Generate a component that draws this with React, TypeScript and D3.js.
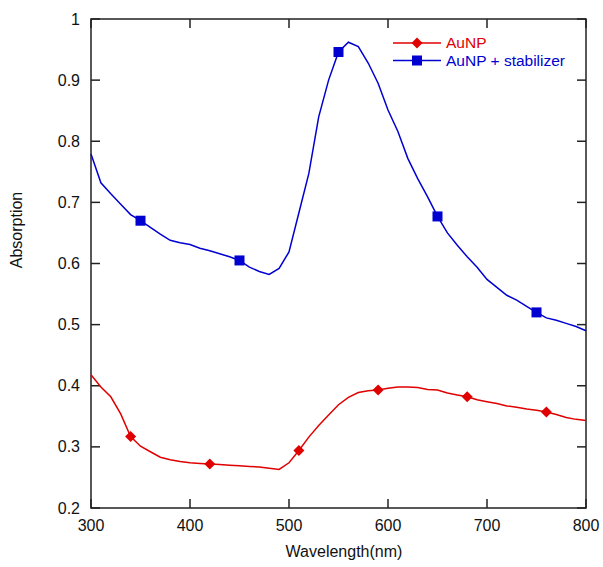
import React from "react";
import * as d3 from "d3";

const wavelengths = [300,310,320,330,340,350,360,370,380,390,400,410,420,430,440,450,460,470,480,490,500,510,520,530,540,550,560,570,580,590,600,610,620,630,640,650,660,670,680,690,700,710,720,730,740,750,760,770,780,790,800];
const auStab = [0.779,0.732,0.714,0.697,0.680,0.670,0.659,0.648,0.638,0.634,0.631,0.625,0.621,0.616,0.611,0.605,0.594,0.587,0.582,0.592,0.619,0.683,0.747,0.840,0.900,0.946,0.962,0.955,0.928,0.895,0.851,0.816,0.772,0.739,0.709,0.677,0.650,0.630,0.611,0.594,0.574,0.561,0.548,0.540,0.530,0.520,0.511,0.507,0.502,0.497,0.490];
const auNP = [0.418,0.398,0.382,0.354,0.317,0.301,0.292,0.283,0.279,0.276,0.274,0.273,0.272,0.271,0.270,0.269,0.268,0.267,0.265,0.263,0.274,0.294,0.316,0.335,0.352,0.369,0.381,0.389,0.392,0.393,0.396,0.398,0.398,0.397,0.394,0.393,0.388,0.385,0.382,0.377,0.374,0.371,0.367,0.365,0.362,0.360,0.357,0.353,0.348,0.345,0.343];
const auNPMarkers = [340,420,510,590,680,760];
const auStabMarkers = [350,450,550,650,750];
const xTicks = [300,400,500,600,700,800];
const yTicks = [0.2,0.3,0.4,0.5,0.6,0.7,0.8,0.9,1];
const seriesNames = ["AuNP","AuNP + stabilizer"];

const RED = "#e00000";
const BLUE = "#0000d0";
const FONT = "'Liberation Sans', Arial, Helvetica, sans-serif";

export default function App() {
  const W = 603, H = 567;
  const L = 91, R = 586, T = 19, B = 508;
  const x = d3.scaleLinear().domain([300, 800]).range([L, R]);
  const y = d3.scaleLinear().domain([0.2, 1]).range([B, T]);
  const line = d3.line<number>().x((_, i) => x(wavelengths[i])).y(d => y(d));
  const valAt = (arr: number[], w: number) => arr[wavelengths.indexOf(w)];
  const tickLen = 9;
  const axisColor = "#222";
  const sq = 10;
  const diamond = (cx: number, cy: number, r = 5.5) =>
    `M${cx},${cy - r}L${cx + r},${cy}L${cx},${cy + r}L${cx - r},${cy}Z`;
  const legY1 = 43, legY2 = 60.5;

  return (
    <svg width={W} height={H} style={{ position: "absolute", left: 0, top: 0, background: "#fff" }} fontFamily={FONT}>
      <rect x={0} y={0} width={W} height={H} fill="#fff" />
      {xTicks.map(t => (
        <g key={"xt" + t}>
          <line x1={x(t)} x2={x(t)} y1={B} y2={B - tickLen} stroke={axisColor} strokeWidth={1.5} />
          <line x1={x(t)} x2={x(t)} y1={T} y2={T + tickLen} stroke={axisColor} strokeWidth={1.5} />
          <text x={x(t)} y={531} fontSize={16} textAnchor="middle" fill="#111">{t}</text>
        </g>
      ))}
      {yTicks.map(t => (
        <g key={"yt" + t}>
          <line x1={L} x2={L + tickLen} y1={y(t)} y2={y(t)} stroke={axisColor} strokeWidth={1.5} />
          <line x1={R} x2={R - tickLen} y1={y(t)} y2={y(t)} stroke={axisColor} strokeWidth={1.5} />
          <text x={80} y={y(t) + 5.5} fontSize={16} textAnchor="end" fill="#111">{String(t)}</text>
        </g>
      ))}
      <rect x={L} y={T} width={R - L} height={B - T} fill="none" stroke={axisColor} strokeWidth={1.5} />
      <path d={line(auNP) || ""} fill="none" stroke={RED} strokeWidth={1.5} />
      <path d={line(auStab) || ""} fill="none" stroke={BLUE} strokeWidth={1.5} />
      {auNPMarkers.map(w => (
        <path key={"rm" + w} d={diamond(x(w), y(valAt(auNP, w)))} fill={RED} />
      ))}
      {auStabMarkers.map(w => (
        <rect key={"bm" + w} x={x(w) - sq / 2} y={y(valAt(auStab, w)) - sq / 2} width={sq} height={sq} fill={BLUE} />
      ))}
      <line x1={393} x2={441} y1={legY1} y2={legY1} stroke={RED} strokeWidth={1.5} />
      <path d={diamond(417, legY1)} fill={RED} />
      <text x={446} y={legY1 + 5.3} fontSize={15.5} fill={RED}>{seriesNames[0]}</text>
      <line x1={393} x2={441} y1={legY2} y2={legY2} stroke={BLUE} strokeWidth={1.5} />
      <rect x={417 - sq / 2} y={legY2 - sq / 2} width={sq} height={sq} fill={BLUE} />
      <text x={446} y={legY2 + 5.3} fontSize={15.5} fill={BLUE}>{seriesNames[1]}</text>
      <text x={344} y={557} fontSize={16} textAnchor="middle" fill="#111">Wavelength(nm)</text>
      <text transform="translate(22,230) rotate(-90)" fontSize={16} textAnchor="middle" fill="#111">Absorption</text>
    </svg>
  );
}
